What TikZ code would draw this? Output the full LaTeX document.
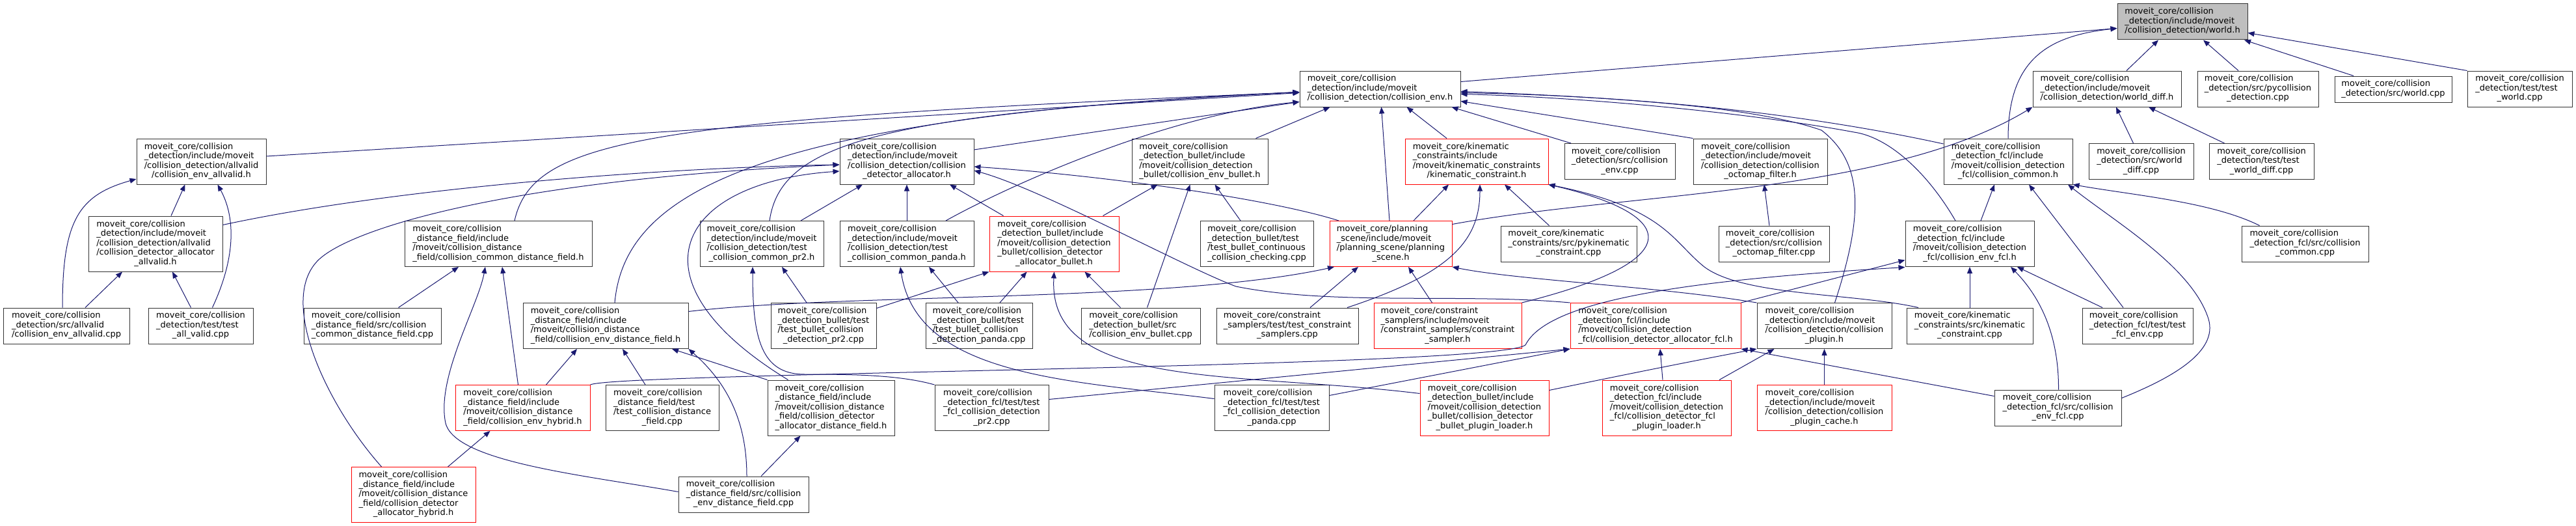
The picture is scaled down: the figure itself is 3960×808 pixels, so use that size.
\documentclass[tikz,border=0pt]{standalone}
\usepackage{fontspec}
\setmainfont{DejaVu Sans}
\usetikzlibrary{arrows.meta}
\definecolor{edgeblue}{HTML}{191970}
\definecolor{rootgray}{HTML}{BFBFBF}
\definecolor{trunc}{HTML}{FF0000}
\newcommand{\flab}[2]{\begin{tabular}{@{}l@{}}#1\\\multicolumn{1}{@{}c@{}}{#2}\end{tabular}}
\tikzset{
  file/.style={draw=black!80, line width=1pt, fill=white, inner sep=0pt, font=\fontsize{13pt}{14.5pt}\selectfont},
  redfile/.style={file, draw=trunc},
  h2/.style={minimum height=40pt},
  h3/.style={minimum height=55pt},
  h4/.style={minimum height=70pt},
  h5/.style={minimum height=85pt},
  inc/.style={draw=edgeblue, line width=1pt, -{Triangle[length=10pt,width=8pt]}}
}
\begin{document}
\begin{tikzpicture}[x=1pt,y=-1pt]
\useasboundingbox (0,0) rectangle (3960,808);
\node[file, h3, fill=rootgray, minimum width=200pt] (world) at (3355,33.5) {\flab{moveit\_core/collision\\\_detection/include/moveit}{/collision\_detection/world.h}};

\node[file, h3, minimum width=247pt] (cenv) at (2121.5,136.5) {\flab{moveit\_core/collision\\\_detection/include/moveit}{/collision\_detection/collision\_env.h}};
\node[file, h3, minimum width=228pt] (wdiff) at (3239,136.5) {\flab{moveit\_core/collision\\\_detection/include/moveit}{/collision\_detection/world\_diff.h}};
\node[file, h3, minimum width=186pt] (pycd) at (3471,136.5) {\flab{moveit\_core/collision\\\_detection/src/pycollision}{\_detection.cpp}};
\node[file, h2, minimum width=180pt] (worldcpp) at (3679,137) {\flab{moveit\_core/collision}{\_detection/src/world.cpp}};
\node[file, h3, minimum width=161pt] (tworld) at (3873.5,136.5) {\flab{moveit\_core/collision\\\_detection/test/test}{\_world.cpp}};

\node[file, h4, minimum width=199pt] (envallvalid) at (309.5,248) {\flab{moveit\_core/collision\\\_detection/include/moveit\\/collision\_detection/allvalid}{/collision\_env\_allvalid.h}};
\node[file, h4, minimum width=206pt] (cdalloc) at (1394,248) {\flab{moveit\_core/collision\\\_detection/include/moveit\\/collision\_detection/collision}{\_detector\_allocator.h}};
\node[file, h4, minimum width=209pt] (envbullet) at (1844.5,248) {\flab{moveit\_core/collision\\\_detection\_bullet/include\\/moveit/collision\_detection}{\_bullet/collision\_env\_bullet.h}};
\node[redfile, h4, minimum width=220pt] (kinc) at (2270,248) {\flab{moveit\_core/kinematic\\\_constraints/include\\/moveit/kinematic\_constraints}{/kinematic\_constraint.h}};
\node[file, h3, minimum width=170pt] (cenvcpp) at (2490,248) {\flab{moveit\_core/collision\\\_detection/src/collision}{\_env.cpp}};
\node[file, h4, minimum width=206pt] (octoh) at (2706,248) {\flab{moveit\_core/collision\\\_detection/include/moveit\\/collision\_detection/collision}{\_octomap\_filter.h}};
\node[file, h4, minimum width=198pt] (fclcommon) at (3087,248) {\flab{moveit\_core/collision\\\_detection\_fcl/include\\/moveit/collision\_detection}{\_fcl/collision\_common.h}};
\node[file, h3, minimum width=161pt] (wdiffcpp) at (3291.5,248) {\flab{moveit\_core/collision\\\_detection/src/world}{\_diff.cpp}};
\node[file, h3, minimum width=161pt] (twdiff) at (3476.5,248) {\flab{moveit\_core/collision\\\_detection/test/test}{\_world\_diff.cpp}};

\node[file, h5, minimum width=206pt] (allocallvalid) at (239,374.5) {\flab{moveit\_core/collision\\\_detection/include/moveit\\/collision\_detection/allvalid\\/collision\_detector\_allocator}{\_allvalid.h}};
\node[file, h4, minimum width=288pt] (commondf) at (766,374.5) {\flab{moveit\_core/collision\\\_distance\_field/include\\/moveit/collision\_distance}{\_field/collision\_common\_distance\_field.h}};
\node[file, h4, minimum width=190pt] (tpr2h) at (1171,374.5) {\flab{moveit\_core/collision\\\_detection/include/moveit\\/collision\_detection/test}{\_collision\_common\_pr2.h}};
\node[file, h4, minimum width=206pt] (tpandah) at (1394,374.5) {\flab{moveit\_core/collision\\\_detection/include/moveit\\/collision\_detection/test}{\_collision\_common\_panda.h}};
\node[redfile, h5, minimum width=199pt] (allocbullet) at (1620.5,374.5) {\flab{moveit\_core/collision\\\_detection\_bullet/include\\/moveit/collision\_detection\\\_bullet/collision\_detector}{\_allocator\_bullet.h}};
\node[file, h4, minimum width=174pt] (tbulletcont) at (1932,374.5) {\flab{moveit\_core/collision\\\_detection\_bullet/test\\/test\_bullet\_continuous}{\_collision\_checking.cpp}};
\node[redfile, h4, minimum width=188pt] (pscene) at (2138,374.5) {\flab{moveit\_core/planning\\\_scene/include/moveit\\/planning\_scene/planning}{\_scene.h}};
\node[file, h3, minimum width=209pt] (pykinc) at (2411.5,374.5) {\flab{moveit\_core/kinematic\\\_constraints/src/pykinematic}{\_constraint.cpp}};
\node[file, h3, minimum width=170pt] (octocpp) at (2727,374.5) {\flab{moveit\_core/collision\\\_detection/src/collision}{\_octomap\_filter.cpp}};
\node[file, h4, minimum width=198pt] (envfcl) at (3028,374.5) {\flab{moveit\_core/collision\\\_detection\_fcl/include\\/moveit/collision\_detection}{\_fcl/collision\_env\_fcl.h}};
\node[file, h3, minimum width=195pt] (fclcommoncpp) at (3543.5,374.5) {\flab{moveit\_core/collision\\\_detection\_fcl/src/collision}{\_common.cpp}};

\node[file, h3, minimum width=194pt] (envallvalidcpp) at (102,500.5) {\flab{moveit\_core/collision\\\_detection/src/allvalid}{/collision\_env\_allvalid.cpp}};
\node[file, h3, minimum width=161pt] (tallvalid) at (308.5,500.5) {\flab{moveit\_core/collision\\\_detection/test/test}{\_all\_valid.cpp}};
\node[file, h3, minimum width=211pt] (commondfcpp) at (572.5,500.5) {\flab{moveit\_core/collision\\\_distance\_field/src/collision}{\_common\_distance\_field.cpp}};
\node[file, h4, minimum width=254pt] (envdf) at (931,500.5) {\flab{moveit\_core/collision\\\_distance\_field/include\\/moveit/collision\_distance}{\_field/collision\_env\_distance\_field.h}};
\node[file, h4, minimum width=162pt] (tbpr2) at (1266,500.5) {\flab{moveit\_core/collision\\\_detection\_bullet/test\\/test\_bullet\_collision}{\_detection\_pr2.cpp}};
\node[file, h4, minimum width=164pt] (tbpanda) at (1505,500.5) {\flab{moveit\_core/collision\\\_detection\_bullet/test\\/test\_bullet\_collision}{\_detection\_panda.cpp}};
\node[file, h3, minimum width=183pt] (envbulletcpp) at (1753.5,500.5) {\flab{moveit\_core/collision\\\_detection\_bullet/src}{/collision\_env\_bullet.cpp}};
\node[file, h3, minimum width=218pt] (tcs) at (1979,500.5) {\flab{moveit\_core/constraint\\\_samplers/test/test\_constraint}{\_samplers.cpp}};
\node[redfile, h4, minimum width=227pt] (csampler) at (2225.5,500.5) {\flab{moveit\_core/constraint\\\_samplers/include/moveit\\/constraint\_samplers/constraint}{\_sampler.h}};
\node[redfile, h4, minimum width=262pt] (allocfcl) at (2545,500.5) {\flab{moveit\_core/collision\\\_detection\_fcl/include\\/moveit/collision\_detection}{\_fcl/collision\_detector\_allocator\_fcl.h}};
\node[file, h4, minimum width=207pt] (cplugin) at (2804.5,500.5) {\flab{moveit\_core/collision\\\_detection/include/moveit\\/collision\_detection/collision}{\_plugin.h}};
\node[file, h3, minimum width=194pt] (kinccpp) at (3028,500.5) {\flab{moveit\_core/kinematic\\\_constraints/src/kinematic}{\_constraint.cpp}};
\node[file, h3, minimum width=170pt] (tfclenv) at (3286,500.5) {\flab{moveit\_core/collision\\\_detection\_fcl/test/test}{\_fcl\_env.cpp}};

\node[redfile, h4, minimum width=207pt] (envhybrid) at (803.5,626.5) {\flab{moveit\_core/collision\\\_distance\_field/include\\/moveit/collision\_distance}{\_field/collision\_env\_hybrid.h}};
\node[file, h4, minimum width=174pt] (tcdf) at (1018,626.5) {\flab{moveit\_core/collision\\\_distance\_field/test\\/test\_collision\_distance}{\_field.cpp}};
\node[file, h5, minimum width=195pt] (allocdf) at (1277.5,626.5) {\flab{moveit\_core/collision\\\_distance\_field/include\\/moveit/collision\_distance\\\_field/collision\_detector}{\_allocator\_distance\_field.h}};
\node[file, h4, minimum width=175pt] (tfpr2) at (1524.5,626.5) {\flab{moveit\_core/collision\\\_detection\_fcl/test/test\\\_fcl\_collision\_detection}{\_pr2.cpp}};
\node[file, h4, minimum width=176pt] (tfpanda) at (1955,626.5) {\flab{moveit\_core/collision\\\_detection\_fcl/test/test\\\_fcl\_collision\_detection}{\_panda.cpp}};
\node[redfile, h5, minimum width=198pt] (bulletloader) at (2282,626.5) {\flab{moveit\_core/collision\\\_detection\_bullet/include\\/moveit/collision\_detection\\\_bullet/collision\_detector}{\_bullet\_plugin\_loader.h}};
\node[redfile, h5, minimum width=198pt] (fclloader) at (2562,626.5) {\flab{moveit\_core/collision\\\_detection\_fcl/include\\/moveit/collision\_detection\\\_fcl/collision\_detector\_fcl}{\_plugin\_loader.h}};
\node[redfile, h4, minimum width=207pt] (pcache) at (2804.5,626.5) {\flab{moveit\_core/collision\\\_detection/include/moveit\\/collision\_detection/collision}{\_plugin\_cache.h}};
\node[file, h3, minimum width=195pt] (envfclcpp) at (3163.5,626.5) {\flab{moveit\_core/collision\\\_detection\_fcl/src/collision}{\_env\_fcl.cpp}};

\node[redfile, h5, minimum width=191pt] (allochybrid) at (635.5,760) {\flab{moveit\_core/collision\\\_distance\_field/include\\/moveit/collision\_distance\\\_field/collision\_detector}{\_allocator\_hybrid.h}};
\node[file, h3, minimum width=200pt] (envdfcpp) at (1143,759.5) {\flab{moveit\_core/collision\\\_distance\_field/src/collision}{\_env\_distance\_field.cpp}};

\draw[inc] ([yshift=11pt]cenv.east) -- ([yshift=-10pt]world.west);
\draw[inc] (fclcommon.north) .. controls (3087,90) and (3150,55) .. ([yshift=-10pt]world.west);
\draw[inc] ([xshift=30pt]wdiff.north) -- ([xshift=-37pt]world.south);
\draw[inc] ([xshift=-30pt]pycd.north) -- ([xshift=32pt]world.south);
\draw[inc] ([xshift=-61pt]worldcpp.north) -- ([xshift=95pt]world.south);
\draw[inc] (tworld.north west) -- ([yshift=-17pt]world.east);
\draw[inc] ([xshift=-12pt]wdiffcpp.north) -- ([xshift=14pt]wdiff.south);
\draw[inc] ([xshift=-57pt]twdiff.north) -- ([xshift=64pt]wdiff.south);
\draw[inc] ([yshift=30pt]pscene.east) .. controls (2500,295) and (2900,300) .. (wdiff.south west);

\draw[inc] ([xshift=-75pt]cenvcpp.north) -- ([xshift=110pt]cenv.south);
\draw[inc] ([xshift=-46pt]kinc.north) -- ([xshift=41pt]cenv.south);
\draw[inc] ([xshift=-2pt]pscene.north) -- ([xshift=2pt]cenv.south);
\draw[inc] ([xshift=86pt]envbullet.north) -- ([xshift=-77pt]cenv.south);
\draw[inc] (octoh.north west) -- ([yshift=-19pt]cenv.east);
\draw[inc] ([yshift=27pt]fclcommon.west) .. controls (2800,180) and (2550,148) .. ([yshift=-6pt]cenv.east);
\draw[inc] ([xshift=-22pt]envfcl.north) .. controls (2960,260) and (2900,210) .. (2850,203) .. controls (2700,175) and (2450,150) .. ([yshift=-8pt]cenv.east);
\draw[inc] ([xshift=16pt]cplugin.north) .. controls (2865,330) and (2865,250) .. (2800,200) .. controls (2700,165) and (2500,150) .. ([yshift=-4pt]cenv.east);
\draw[inc] ([yshift=8pt]envallvalid.east) -- ([yshift=-6pt]cenv.west);
\draw[inc] ([xshift=25pt]commondf.north) .. controls (820,210) and (1000,185) .. ([yshift=-5pt]cenv.west);
\draw[inc] ([xshift=12pt]tpr2h.north) .. controls (1200,220) and (1350,175) .. ([yshift=-5pt]cenv.west);
\draw[inc] ([xshift=14pt]envdf.north) .. controls (960,300) and (1150,180) .. ([yshift=-5pt]cenv.west);
\draw[inc] ([xshift=60pt]tpandah.north) .. controls (1560,280) and (1800,175) .. ([yshift=-20pt]cenv.west);
\draw[inc] ([yshift=18pt]cdalloc.east) -- ([yshift=-20pt]cenv.west);

\draw[inc] ([xshift=24pt]allocallvalid.north) -- ([xshift=-25pt]envallvalid.south);
\draw[inc] ([yshift=29pt]allocallvalid.east) .. controls (600,290) and (1000,258) .. ([yshift=-5pt]cdalloc.west);
\draw[inc] ([xshift=-6pt]envallvalidcpp.north) .. controls (96,340) and (120,300) .. ([yshift=-27pt]envallvalid.west);
\draw[inc] ([xshift=29pt]envallvalidcpp.north) -- ([xshift=-51pt]allocallvalid.south);
\draw[inc] ([xshift=-15pt]tallvalid.north) -- ([xshift=26pt]allocallvalid.south);
\draw[inc] ([xshift=18pt]tallvalid.north) .. controls (365,390) and (360,330) .. ([xshift=25pt]envallvalid.south);
\draw[inc] ([xshift=40pt]commondfcpp.north) -- ([xshift=-61pt]commondf.south);
\draw[inc] ([yshift=4pt]envdfcpp.west) .. controls (900,730) and (700,710) .. (685,650) .. controls (670,580) and (735,470) .. ([xshift=-20pt]commondf.south);
\draw[inc] ([xshift=5pt]envdfcpp.north) .. controls (1148,650) and (1120,590) .. (envdf.south east);
\draw[inc] ([xshift=27pt]envdfcpp.north) -- ([xshift=-47pt]allocdf.south);
\draw[inc] ([xshift=-7pt]envhybrid.north) -- ([xshift=6pt]commondf.south);
\draw[inc] ([xshift=36pt]envhybrid.north) -- ([xshift=-44pt]envdf.south);
\draw[inc] ([xshift=-26pt]tcdf.north) -- ([xshift=26pt]envdf.south);
\draw[inc] (allocdf.north west) -- ([xshift=102pt]envdf.south);
\draw[inc] ([xshift=-66pt]allocdf.north) .. controls (960,430) and (1040,280) .. ([yshift=-15pt]cdalloc.west);
\draw[inc] ([xshift=53pt]allochybrid.north) -- ([xshift=-50pt]envhybrid.south);
\draw[inc] ([xshift=-49pt]allochybrid.north) .. controls (500,620) and (420,450) .. (497,393) .. controls (560,345) and (800,275) .. ([yshift=-5pt]cdalloc.west);

\draw[inc] ([xshift=60pt]tpr2h.north) -- ([xshift=-68pt]cdalloc.south);
\draw[inc] (tpandah.north) -- (cdalloc.south);
\draw[inc] ([xshift=-78pt]allocbullet.north) -- ([xshift=66pt]cdalloc.south);
\draw[inc] ([xshift=75pt]allocbullet.north) -- ([xshift=-65pt]envbullet.south);
\draw[inc] ([xshift=-25pt]tbulletcont.north) -- ([xshift=23pt]envbullet.south);
\draw[inc] ([xshift=10pt]envbulletcpp.north) -- ([xshift=-15pt]envbullet.south);
\draw[inc] ([xshift=-80pt]pscene.north) .. controls (1950,305) and (1700,270) .. ([yshift=-8pt]cdalloc.east);
\draw[inc] (allocfcl.north west) .. controls (2250,450) and (2050,470) .. (1900,440) .. controls (1820,410) and (1600,290) .. ([yshift=-14pt]cdalloc.east);

\draw[inc] ([xshift=35pt]pscene.north) -- ([xshift=-43pt]kinc.south);
\draw[inc] ([xshift=35pt]tcs.north) -- ([xshift=-50pt]pscene.south);
\draw[inc] ([xshift=92pt]tcs.north) .. controls (2230,420) and (2275,370) .. ([xshift=5pt]kinc.south);
\draw[inc] ([xshift=-24pt]csampler.north) -- ([xshift=27pt]pscene.south);
\draw[inc] (csampler.north east) .. controls (2600,400) and (2580,330) .. (kinc.south east);
\draw[inc] ([xshift=-79pt]kinccpp.north) .. controls (2850,450) and (2680,455) .. (2620,410) .. controls (2570,370) and (2560,320) .. (kinc.south east);
\draw[inc] ([xshift=-30pt]pykinc.north) -- ([xshift=43pt]kinc.south);
\draw[inc] ([xshift=-7pt]octocpp.north) -- ([xshift=6pt]octoh.south);

\draw[inc] (kinccpp.north) -- (envfcl.south);
\draw[inc] ([xshift=-54pt]tfclenv.north) -- ([xshift=73pt]envfcl.south);
\draw[inc] ([xshift=-22pt]tfclenv.north) -- ([xshift=32pt]fclcommon.south);
\draw[inc] ([xshift=17pt]envfcl.north) -- ([xshift=-21pt]fclcommon.south);
\draw[inc] ([xshift=-70pt]fclcommoncpp.north) .. controls (3400,310) and (3280,300) .. (fclcommon.south east);
\draw[inc] ([xshift=1pt]envfclcpp.north) .. controls (3165,520) and (3140,460) .. ([xshift=63pt]envfcl.south);
\draw[inc] ([yshift=15pt]envfclcpp.east) .. controls (3340,580) and (3410,540) .. (3395,490) .. controls (3370,410) and (3250,340) .. ([xshift=92pt]fclcommon.south);
\draw[inc] (allocfcl.north east) -- ([yshift=-25pt]envfcl.west);
\draw[inc] (envhybrid.north east) .. controls (950,572) and (2300,565) .. (2345,530) .. controls (2380,460) and (2600,430) .. ([yshift=-36pt]envfcl.west);

\draw[inc] (tfpr2.north west) .. controls (1380,575) and (1300,575) .. (1237,575) .. controls (1170,575) and (1157,520) .. ([xshift=-14pt]tpr2h.south);
\draw[inc] ([yshift=14pt]tfpanda.west) .. controls (1650,585) and (1410,580) .. ([xshift=-10pt]tpandah.south);
\draw[inc] ([xshift=-26pt]tbpr2.north) -- ([xshift=31pt]tpr2h.south);
\draw[inc] ([yshift=27pt]tbpr2.east) -- (allocbullet.south west);
\draw[inc] ([xshift=-32pt]tbpanda.north) -- ([xshift=34pt]tpandah.south);
\draw[inc] ([xshift=32pt]tbpanda.north) -- ([xshift=-42pt]allocbullet.south);
\draw[inc] ([xshift=-31pt]envbulletcpp.north) -- ([xshift=47pt]allocbullet.south);
\draw[inc] ([yshift=22pt]bulletloader.west) .. controls (1900,570) and (1610,600) .. (allocbullet.south);
\draw[inc] ([yshift=27pt]bulletloader.east) .. controls (2500,575) and (2600,555) .. (cplugin.south west);
\draw[inc] ([xshift=-6pt]fclloader.north) -- ([xshift=7pt]allocfcl.south);
\draw[inc] ([xshift=81pt]fclloader.north) -- ([xshift=-77pt]cplugin.south);
\draw[inc] (pcache.north) -- (cplugin.south);
\draw[inc] ([yshift=18pt]envfclcpp.west) -- (allocfcl.south east);
\draw[inc] ([yshift=13pt]tfpr2.east) -- (allocfcl.south west);
\draw[inc] ([yshift=19pt]tfpanda.east) -- (allocfcl.south west);
\draw[inc] ([yshift=22pt]envdf.east) .. controls (1300,450) and (1800,465) .. ([xshift=-87pt]pscene.south);
\draw[inc] (cplugin.north west) .. controls (2550,440) and (2330,430) .. (pscene.south east);
\end{tikzpicture}
\end{document}
